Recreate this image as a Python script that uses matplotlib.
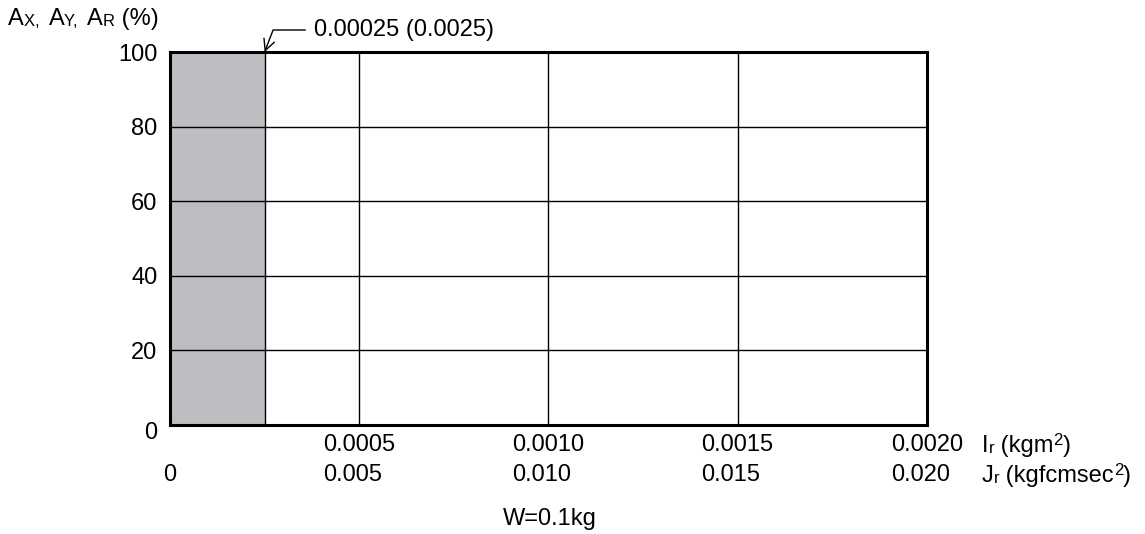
import matplotlib
matplotlib.use("Agg")
import matplotlib.pyplot as plt
from matplotlib.transforms import ScaledTranslation

plt.rcParams['font.family'] = ['Liberation Sans', 'DejaVu Sans']
plt.rcParams['font.size'] = 17

# data
ir_ticks = [0, 0.0005, 0.0010, 0.0015, 0.0020]
ir_labels = ['', '0.0005', '0.0010', '0.0015', '0.0020']
jr_labels = ['0', '0.005', '0.010', '0.015', '0.020']
y_ticks = [0, 20, 40, 60, 80, 100]
shade_end = 0.00025
shade_label = '0.00025 (0.0025)'
BIG, SMALL = 17, 12

fig = plt.figure(figsize=(11.45, 5.34), dpi=100)
ax = fig.add_axes([0.1485, 0.2041, 0.661, 0.6985])
ax.set_xlim(ir_ticks[0], ir_ticks[-1])
ax.set_ylim(y_ticks[0], y_ticks[-1])

ax.axvspan(0, shade_end, color='#bdbec2', lw=0, zorder=0)
ax.axvline(shade_end, color='black', lw=1.0, zorder=1)

ax.set_xticks(ir_ticks)
ax.set_xticklabels([a + '\n' + b for a, b in zip(ir_labels, jr_labels)],
                   multialignment='left', linespacing=1.42)
ax.set_yticks(y_ticks)
ax.set_yticklabels([str(v) for v in y_ticks])
ax.tick_params(length=0)
ax.tick_params(axis='x', pad=6.8)
ax.tick_params(axis='y', pad=9)
ax.grid(True, color='black', lw=1.0)
ax.set_axisbelow(False)
for s in ax.spines.values():
    s.set_linewidth(2.2)

# lower the 0 label a bit
lab0 = ax.get_yticklabels()[0]
lab0.set_transform(lab0.get_transform() + ScaledTranslation(0, -5 / 100, fig.dpi_scale_trans))

ax.annotate(shade_label, xy=(shade_end, y_ticks[-1]), xycoords='data',
            xytext=(49, 22), textcoords='offset pixels', ha='left', va='center',
            arrowprops=dict(arrowstyle='->', connectionstyle='angle,angleA=0,angleB=69,rad=0',
                            lw=1.0, color='black', shrinkA=4, shrinkB=0, mutation_scale=20))


def chain(start, parts):
    # each piece goes right after the previous one, on the line of the first one
    prev = start
    for s, size, rise in parts:
        prev = ax.annotate(s, xy=(1, 0), xycoords=(prev, start), xytext=(0, rise),
                           textcoords='offset points', va='bottom', ha='left',
                           fontsize=size, annotation_clip=False)
    return prev


# axis units on the right, one row per scale
t1 = ax.annotate('I', xy=(1, 0), xycoords='axes fraction', xytext=(55, -27),
                 textcoords='offset pixels', ha='left', va='baseline', annotation_clip=False)
chain(t1, [('r', SMALL, 1), (' (kgm', BIG, 0), ('2', SMALL, 6.5), (')', BIG, 0)])
t2 = ax.annotate('J', xy=(1, 0), xycoords='axes fraction', xytext=(55, -57),
                 textcoords='offset pixels', ha='left', va='baseline', annotation_clip=False)
chain(t2, [('r', SMALL, 1), (' (kgfcmsec', BIG, 0), ('2', SMALL, 6.5), (')', BIG, 0)])

# y axis title with small caps
t3 = ax.annotate('A', xy=(0, 1), xycoords='figure fraction', xytext=(8, -25),
                 textcoords='offset pixels', ha='left', va='baseline', annotation_clip=False)
chain(t3, [('X,  ', SMALL, 1), ('A', BIG, 0), ('Y,  ', SMALL, 1), ('A', BIG, 0),
           ('R', SMALL, 1), (' (%)', BIG, 0)])

fig.text(550 / 1145, 1 - 525 / 534, 'W=0.1kg', ha='center', va='baseline')

fig.savefig('out.png', dpi=100)
